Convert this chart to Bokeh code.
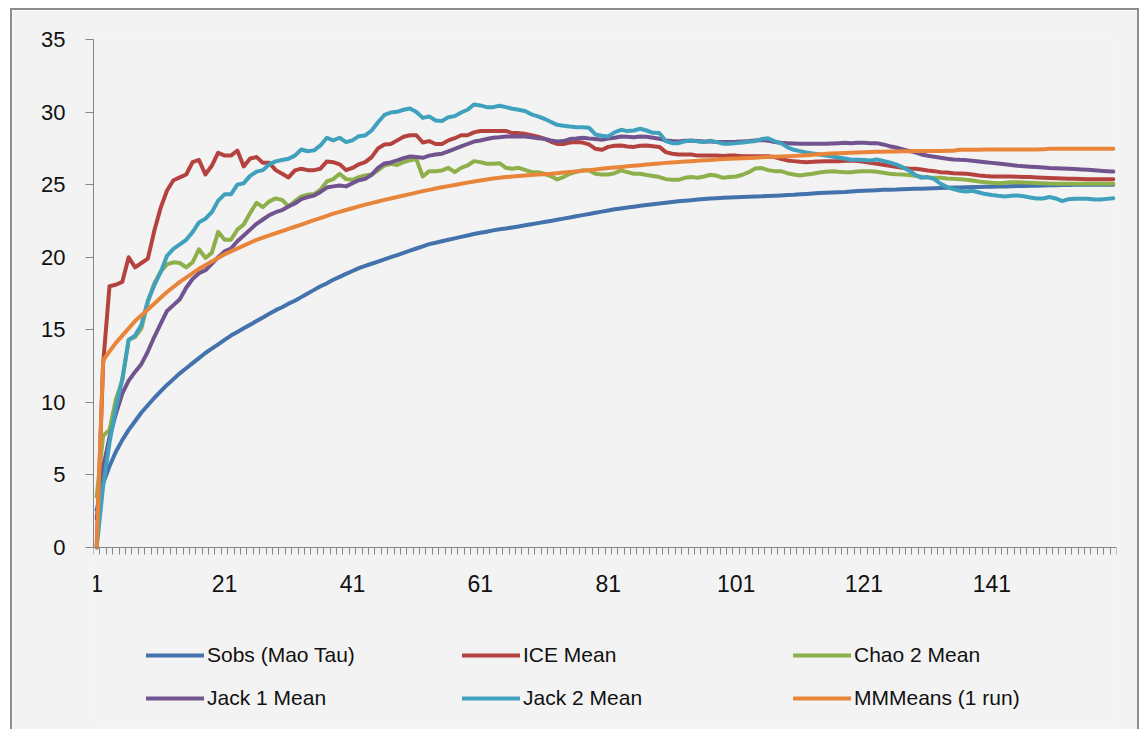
from bokeh.plotting import figure
from bokeh.models import Range1d, FixedTicker, Legend, LegendItem
from bokeh.embed import file_html
from bokeh.resources import INLINE

x_labels = [1, 21, 41, 61, 81, 101, 121, 141]
n_cat = 160
samples = list(range(1, n_cat + 1))

sobs = [2.6, 4.4, 5.6, 6.6, 7.4, 8.1, 8.7, 9.3, 9.8, 10.3,
        10.75, 11.2, 11.6, 12.0, 12.35, 12.7, 13.05, 13.4, 13.7, 14.0,
        14.3, 14.6, 14.85, 15.1, 15.35, 15.6, 15.85, 16.1, 16.35, 16.55,
        16.8, 17.0, 17.25, 17.5, 17.75, 18.0, 18.2, 18.45, 18.65, 18.85,
        19.05, 19.25, 19.4, 19.55, 19.7, 19.85, 20.0, 20.15, 20.3, 20.45,
        20.6, 20.75, 20.9, 21.0, 21.1, 21.2, 21.3, 21.4, 21.5, 21.6,
        21.68, 21.76, 21.85, 21.92, 21.98, 22.05, 22.12, 22.2, 22.27, 22.35,
        22.42, 22.5, 22.58, 22.66, 22.74, 22.82, 22.9, 22.98, 23.06, 23.14,
        23.22, 23.3, 23.36, 23.42, 23.48, 23.54, 23.6, 23.65, 23.7, 23.75,
        23.8, 23.85, 23.89, 23.93, 23.97, 24.01, 24.05, 24.07, 24.09, 24.11,
        24.13, 24.15, 24.17, 24.19, 24.2, 24.22, 24.24, 24.26, 24.28, 24.3,
        24.33, 24.36, 24.39, 24.42, 24.44, 24.46, 24.48, 24.5, 24.53, 24.56,
        24.58, 24.6, 24.62, 24.64, 24.65, 24.66, 24.68, 24.7, 24.71, 24.72,
        24.74, 24.76, 24.77, 24.78, 24.8, 24.81, 24.82, 24.83, 24.84, 24.85,
        24.86, 24.87, 24.88, 24.89, 24.9, 24.91, 24.92, 24.93, 24.94, 24.95,
        24.96, 24.97, 24.98, 24.99, 25.0, 25.0, 25.0, 25.0, 25.0, 25.0]

ice = [0.0, 12.6, 18.0, 18.1, 18.3, 20.0, 19.3, 19.6, 19.9, 21.8,
       23.4, 24.6, 25.3, 25.5, 25.7, 26.55, 26.7, 25.7, 26.3, 27.2,
       27.0, 27.0, 27.35, 26.25, 26.8, 26.9, 26.5, 26.5, 26.0, 25.75,
       25.5, 25.98, 26.1, 26.0, 26.0, 26.1, 26.6, 26.55, 26.4, 26.0,
       26.15, 26.4, 26.55, 26.9, 27.5, 27.77, 27.8, 28.05, 28.3, 28.4,
       28.4, 27.9, 28.0, 27.8, 27.8, 28.05, 28.2, 28.4, 28.4, 28.6,
       28.7, 28.7, 28.7, 28.7, 28.7, 28.55, 28.55, 28.5, 28.4, 28.3,
       28.16, 27.97, 27.8, 27.8, 27.9, 27.93, 27.9, 27.77, 27.47, 27.4,
       27.6, 27.68, 27.7, 27.63, 27.6, 27.68, 27.7, 27.65, 27.6, 27.24,
       27.13, 27.08, 27.08, 27.08, 27.0, 27.0, 27.0, 27.0, 26.97, 27.0,
       27.0, 26.95, 26.95, 26.95, 26.95, 26.95, 26.9, 26.78, 26.67, 26.62,
       26.57, 26.55, 26.57, 26.6, 26.62, 26.62, 26.62, 26.64, 26.67, 26.62,
       26.57, 26.5, 26.44, 26.37, 26.3, 26.23, 26.16, 26.1, 26.1, 26.05,
       25.98, 25.93, 25.86, 25.84, 25.79, 25.77, 25.75, 25.7, 25.63, 25.59,
       25.56, 25.56, 25.56, 25.56, 25.55, 25.53, 25.52, 25.5, 25.48, 25.46,
       25.44, 25.42, 25.4, 25.4, 25.39, 25.38, 25.38, 25.37, 25.37, 25.37]

chao2 = [3.5, 7.7, 8.1, 10.2, 11.5, 14.3, 14.5, 15.1, 16.9, 18.2,
         19.0, 19.5, 19.65, 19.6, 19.3, 19.65, 20.55, 19.95, 20.3, 21.75,
         21.2, 21.2, 21.9, 22.25, 23.05, 23.75, 23.45, 23.85, 24.05, 23.95,
         23.5, 23.86, 24.19, 24.3, 24.35, 24.65, 25.22, 25.38, 25.75, 25.38,
         25.33, 25.52, 25.63, 25.7, 25.98, 26.32, 26.44, 26.35, 26.55, 26.67,
         26.76, 25.56, 25.93, 25.93, 25.98, 26.16, 25.86, 26.16, 26.32, 26.62,
         26.55, 26.44, 26.44, 26.48, 26.16, 26.09, 26.16, 26.02, 25.86, 25.86,
         25.75, 25.59, 25.36, 25.52, 25.75, 25.89, 26.0, 25.98, 25.75, 25.7,
         25.7, 25.79, 25.98, 25.86, 25.75, 25.75, 25.66, 25.59, 25.52, 25.38,
         25.33, 25.33, 25.47, 25.52, 25.47, 25.56, 25.68, 25.61, 25.47, 25.52,
         25.56, 25.68, 25.86, 26.11, 26.14, 26.0, 25.93, 25.93, 25.79, 25.7,
         25.63, 25.7, 25.75, 25.84, 25.89, 25.93, 25.89, 25.86, 25.86, 25.91,
         25.93, 25.93, 25.89, 25.82, 25.75, 25.72, 25.7, 25.66, 25.61, 25.54,
         25.5, 25.47, 25.47, 25.43, 25.4, 25.38, 25.33, 25.29, 25.22, 25.17,
         25.13, 25.1, 25.13, 25.17, 25.17, 25.15, 25.13, 25.11, 25.1, 25.08,
         25.07, 25.07, 25.06, 25.06, 25.06, 25.06, 25.06, 25.06, 25.06, 25.06]

jack1 = [2.0, 5.5, 7.6, 9.2, 10.6, 11.5, 12.1, 12.65, 13.5, 14.5,
         15.4, 16.3, 16.7, 17.1, 17.9, 18.5, 18.9, 19.1, 19.55, 20.0,
         20.4, 20.6, 21.1, 21.5, 21.9, 22.3, 22.6, 22.9, 23.1, 23.25,
         23.5, 23.7, 24.0, 24.14, 24.25, 24.5, 24.8, 24.88, 24.94, 24.88,
         25.1, 25.3, 25.4, 25.68, 26.16, 26.46, 26.53, 26.67, 26.83, 26.94,
         26.9, 26.85, 27.0, 27.08, 27.13, 27.3, 27.47, 27.63, 27.8, 27.97,
         28.04, 28.14, 28.23, 28.27, 28.32, 28.32, 28.34, 28.32, 28.27, 28.2,
         28.16, 28.05, 27.98, 28.0, 28.14, 28.18, 28.23, 28.18, 28.14, 28.09,
         28.18, 28.23, 28.32, 28.3, 28.27, 28.32, 28.3, 28.23, 28.16, 28.05,
         28.0, 27.98, 28.02, 28.02, 28.0, 27.98, 27.98, 27.93, 27.93, 27.93,
         27.95, 27.98, 28.0, 28.05, 28.07, 28.03, 27.93, 27.88, 27.86, 27.84,
         27.82, 27.82, 27.82, 27.82, 27.82, 27.84, 27.86, 27.88, 27.86, 27.88,
         27.88, 27.86, 27.86, 27.77, 27.65, 27.56, 27.45, 27.33, 27.22, 27.08,
         26.99, 26.92, 26.85, 26.78, 26.74, 26.71, 26.69, 26.64, 26.6, 26.55,
         26.5, 26.45, 26.4, 26.35, 26.3, 26.27, 26.24, 26.21, 26.18, 26.15,
         26.13, 26.11, 26.09, 26.07, 26.05, 26.02, 25.99, 25.96, 25.93, 25.9]

jack2 = [0.0, 4.2, 7.2, 9.6, 11.6, 14.3, 14.6, 15.35, 17.0, 18.06,
         18.97, 20.1, 20.58, 20.88, 21.2, 21.73, 22.4, 22.65, 23.1, 23.9,
         24.33, 24.33, 25.0, 25.1, 25.6, 25.9, 26.0, 26.4, 26.6, 26.7,
         26.78, 27.0, 27.42, 27.3, 27.36, 27.7, 28.23, 28.05, 28.23, 27.93,
         28.05, 28.34, 28.39, 28.73, 29.3, 29.8, 29.97, 30.02, 30.16, 30.25,
         30.0, 29.6, 29.7, 29.42, 29.38, 29.65, 29.72, 29.97, 30.16, 30.52,
         30.46, 30.34, 30.34, 30.43, 30.34, 30.23, 30.16, 30.07, 29.84, 29.7,
         29.54, 29.33, 29.12, 29.06, 29.0, 28.96, 28.96, 28.92, 28.46, 28.37,
         28.32, 28.6, 28.78, 28.69, 28.73, 28.85, 28.73, 28.57, 28.55, 28.0,
         27.86, 27.86, 27.98, 28.05, 27.98, 27.93, 28.02, 27.93, 27.82, 27.82,
         27.86, 27.91, 27.95, 28.0, 28.14, 28.2, 28.0, 27.86, 27.59, 27.4,
         27.31, 27.22, 27.15, 27.08, 27.01, 26.94, 26.87, 26.8, 26.71, 26.71,
         26.69, 26.67, 26.74, 26.64, 26.53, 26.39, 26.21, 25.98, 25.68, 25.47,
         25.52, 25.38, 25.06, 24.83, 24.69, 24.58, 24.53, 24.58, 24.46, 24.35,
         24.28, 24.23, 24.19, 24.23, 24.25, 24.2, 24.12, 24.05, 24.05, 24.15,
         24.05, 23.87, 24.0, 24.03, 24.03, 24.03, 23.98, 23.97, 24.02, 24.07]

mmmeans = [0.0, 12.9, 13.5, 14.1, 14.6, 15.1, 15.6, 16.0, 16.4, 16.8,
           17.2, 17.6, 17.95, 18.3, 18.6, 18.9, 19.2, 19.45, 19.7, 19.95,
           20.2, 20.4, 20.6, 20.8, 21.0, 21.2, 21.35, 21.5, 21.65, 21.8,
           21.95, 22.1, 22.25, 22.4, 22.55, 22.7, 22.85, 23.0, 23.12, 23.25,
           23.37, 23.5, 23.62, 23.73, 23.84, 23.95, 24.05, 24.15, 24.25, 24.35,
           24.45, 24.55, 24.64, 24.73, 24.82, 24.9, 24.98, 25.06, 25.14, 25.22,
           25.29, 25.36, 25.42, 25.47, 25.52, 25.56, 25.6, 25.63, 25.66, 25.69,
           25.72, 25.75, 25.79, 25.83, 25.87, 25.91, 25.95, 26.0, 26.05, 26.1,
           26.14, 26.18, 26.22, 26.26, 26.3, 26.34, 26.38, 26.42, 26.46, 26.5,
           26.53, 26.56, 26.59, 26.62, 26.65, 26.68, 26.7, 26.73, 26.76, 26.78,
           26.8, 26.82, 26.84, 26.86, 26.88, 26.9, 26.92, 26.94, 26.96, 26.98,
           27.0, 27.03, 27.06, 27.09, 27.12, 27.14, 27.16, 27.18, 27.2, 27.22,
           27.24, 27.25, 27.26, 27.27, 27.28, 27.29, 27.3, 27.3, 27.31, 27.31,
           27.31, 27.32, 27.32, 27.33, 27.33, 27.4, 27.41, 27.41, 27.41, 27.42,
           27.42, 27.42, 27.42, 27.42, 27.42, 27.42, 27.42, 27.42, 27.43, 27.47,
           27.47, 27.47, 27.47, 27.47, 27.47, 27.47, 27.47, 27.47, 27.47, 27.47]

series_names = ["Sobs (Mao Tau)", "ICE Mean", "Chao 2 Mean",
                "Jack 1 Mean", "Jack 2 Mean", "MMMeans (1 run)"]
series_values = [sobs, ice, chao2, jack1, jack2, mmmeans]
colors = ["#4372AD", "#B4433F", "#8DB04B", "#71548F", "#3FA1BD", "#E8853A"]

BG = "#F3F3F3"
AXIS = "#868686"
FONT = "Liberation Sans"

# figure offset inside the page, with a 2px gray border (left/top/right)
W, H = 1129, 721
Y_TOP = 35
Y_BOTTOM = -12.126   # extends the frame downward so the legend fits inside it
p = figure(width=W, height=H, output_backend="svg", toolbar_location=None,
           x_range=Range1d(0.5, n_cat + 0.5), y_range=Range1d(Y_BOTTOM, Y_TOP),
           min_border_left=81, min_border_right=25, min_border_top=29,
           min_border_bottom=8)
p.styles = {"margin-left": "10px", "margin-top": "8px",
            "border-left": "2px solid #8C8C8C", "border-top": "2px solid #8C8C8C",
            "border-right": "2px solid #8C8C8C"}
p.background_fill_color = BG
p.border_fill_color = BG
p.outline_line_color = None
p.grid.visible = False

renderers = []
for name, vals, col in zip(series_names, series_values, colors):
    r = p.line(samples, vals, line_color=col, line_width=4,
               line_join="round", line_cap="round")
    renderers.append(r)

# y axis
ya = p.yaxis[0]
ya.ticker = FixedTicker(ticks=[0, 5, 10, 15, 20, 25, 30, 35], minor_ticks=[])
ya.bounds = (0, 35)
ya.axis_line_color = AXIS
ya.major_tick_line_color = AXIS
ya.major_tick_out = 8
ya.major_tick_in = 0
ya.minor_tick_line_color = None
ya.major_label_standoff = 20
ya.major_label_text_font = FONT
ya.major_label_text_font_size = "22px"
ya.major_label_text_color = "#111111"

# x axis, pinned at y = 0
xa = p.xaxis[0]
xa.fixed_location = 0
xa.ticker = FixedTicker(ticks=x_labels,
                        minor_ticks=[i + 0.5 for i in range(0, n_cat + 1)])
xa.axis_line_color = AXIS
xa.major_tick_line_color = None
xa.major_tick_out = 0
xa.major_tick_in = 0
xa.minor_tick_line_color = AXIS
xa.minor_tick_out = 7
xa.minor_tick_in = 0
xa.major_label_standoff = 21
xa.major_label_text_font = FONT
xa.major_label_text_font_size = "23px"
xa.major_label_text_color = "#111111"

# legend: three columns of two entries
cols = [(53, [0, 3]), (369, [1, 4]), (700, [2, 5])]
for lx, idxs in cols:
    items = [LegendItem(label=series_names[k], renderers=[renderers[k]]) for k in idxs]
    lg = Legend(items=items, location=(lx, 11), orientation="vertical",
                glyph_width=58, glyph_height=28, label_height=28,
                label_standoff=3, spacing=15, padding=0, margin=0,
                border_line_color=None, background_fill_alpha=0,
                label_text_font=FONT, label_text_font_size="21px",
                label_text_color="#111111")
    p.add_layout(lg, "center")

open("out.html", "w").write(file_html(p, INLINE))
